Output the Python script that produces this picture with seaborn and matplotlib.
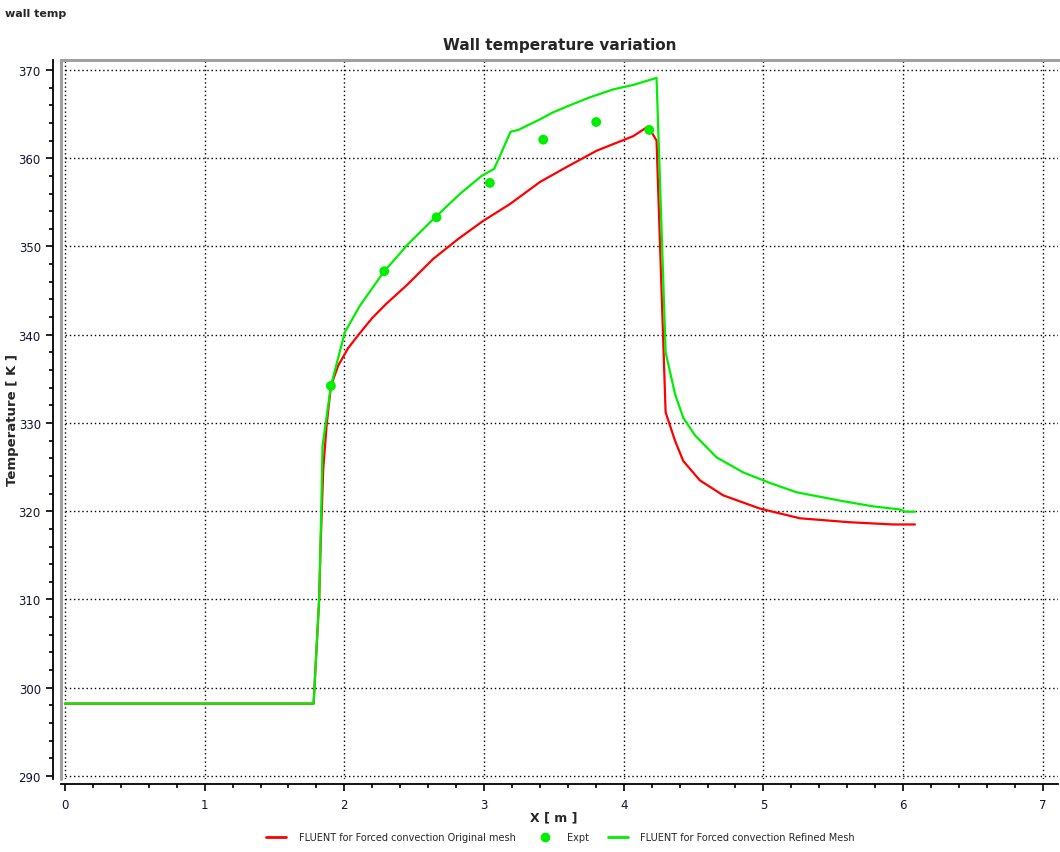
import matplotlib
matplotlib.use("Agg")
import matplotlib.pyplot as plt
from matplotlib.lines import Line2D
from matplotlib.ticker import MultipleLocator
import pandas as pd
import seaborn as sns

# FLUENT original mesh (red)
orig_x = [0.0, 1.78, 1.82, 1.83, 1.849, 1.873, 1.904, 1.956, 2.028, 2.112, 2.2, 2.30,
          2.446, 2.637, 2.815, 2.994, 3.185, 3.40, 3.591, 3.806, 3.925, 4.068, 4.175,
          4.235, 4.30, 4.367, 4.426, 4.545, 4.712, 4.975, 5.261, 5.619, 5.929, 6.085]
orig_t = [298.2, 298.2, 310.1, 316.1, 324.8, 329.7, 334.2, 336.5, 338.5, 340.2, 341.9,
          343.5, 345.6, 348.6, 350.85, 352.9, 354.8, 357.3, 359.0, 360.85, 361.6, 362.5,
          363.6, 362.0, 331.2, 328.0, 325.7, 323.5, 321.8, 320.3, 319.2, 318.75, 318.5, 318.5]

# FLUENT refined mesh (green)
ref_x = [0.0, 1.78, 1.82, 1.835, 1.844, 1.904, 2.004, 2.112, 2.286, 2.398, 2.446, 2.637,
         2.827, 2.983, 3.073, 3.19, 3.245, 3.40, 3.495, 3.615, 3.758, 3.925, 4.068, 4.235,
         4.30, 4.367, 4.426, 4.51, 4.665, 4.855, 5.047, 5.237, 5.548, 5.786, 5.977, 6.013, 6.085]
ref_t = [298.2, 298.2, 310.1, 320.3, 327.4, 334.2, 340.3, 343.3, 347.2, 349.2, 350.1, 353.1,
         355.95, 358.0, 358.8, 363.0, 363.2, 364.4, 365.2, 366.0, 366.9, 367.8, 368.3, 369.1,
         338.0, 333.3, 330.6, 328.6, 326.1, 324.4, 323.2, 322.15, 321.2, 320.55, 320.2, 319.95, 319.95]

# experiment
expt_x = [1.904, 2.286, 2.66, 3.042, 3.424, 3.803, 4.183]
expt_t = [334.2, 347.2, 353.3, 357.2, 362.1, 364.1, 363.2]

sns.set_style("white")
plt.rcParams['font.family'] = ['DejaVu Sans']

fig = plt.figure(figsize=(10.6, 8.53), dpi=100)
ax = fig.add_axes([0.0575, 0.0856, 0.9405, 0.8429])

red = '#ff0000'
green = '#00ee00'

orig_df = pd.DataFrame({'x': orig_x, 't': orig_t})
ref_df = pd.DataFrame({'x': ref_x, 't': ref_t})
expt_df = pd.DataFrame({'x': expt_x, 't': expt_t})

sns.lineplot(data=orig_df, x='x', y='t', sort=False, estimator=None, color=red,
             linewidth=1.6, ax=ax, zorder=3)
sns.lineplot(data=ref_df, x='x', y='t', sort=False, estimator=None, color=green,
             linewidth=1.6, ax=ax, zorder=3)
sns.scatterplot(data=expt_df, x='x', y='t', color=green, s=50, edgecolor='none',
                ax=ax, zorder=4)

ax.set_xlim(-0.0286, 7.108)
ax.set_ylim(289.66, 371.13)
ax.xaxis.set_major_locator(MultipleLocator(1))
ax.xaxis.set_minor_locator(MultipleLocator(0.2))
ax.yaxis.set_major_locator(MultipleLocator(10))
ax.yaxis.set_minor_locator(MultipleLocator(2))
ax.tick_params(axis='both', which='major', length=5, width=1.2, labelsize=8.5,
               color='black', labelcolor='#111133')
ax.tick_params(axis='both', which='minor', length=3, width=1.2, color='black')
ax.tick_params(axis='x', which='both', bottom=True, pad=5)
ax.tick_params(axis='y', which='both', left=True, pad=4)

ax.grid(True, which='major', color='black', linestyle=(0, (1, 2)), linewidth=1.0)

ax.spines['bottom'].set_position(('outward', 3.5))
ax.spines['bottom'].set_color('black')
ax.spines['bottom'].set_linewidth(1.3)
ax.spines['left'].set_position(('outward', 5.5))
ax.spines['left'].set_color('black')
ax.spines['left'].set_linewidth(1.3)
ax.spines['top'].set_color('#a0a0a0')
ax.spines['top'].set_linewidth(2.2)
ax.spines['right'].set_visible(False)
ax.add_line(Line2D([0, 0], [0, 1], transform=ax.transAxes, color='#a0a0a0',
                   linewidth=2.2, clip_on=False, zorder=5))

ax.set_xlabel('')
ax.set_ylabel('')
fig.text(0.522, 0.041, 'X [ m ]', ha='center', va='center', fontsize=9,
         fontweight='bold')
fig.text(0.012, 0.508, 'Temperature [ K ]', ha='center', va='center', fontsize=9.5,
         fontweight='bold', rotation=90)
fig.text(0.528, 0.947, 'Wall temperature variation', ha='center', va='center',
         fontsize=11, fontweight='bold')
fig.text(0.005, 0.99, 'wall temp', ha='left', va='top', fontsize=8, fontweight='bold')

handles = [Line2D([], [], color=red, linewidth=2),
           Line2D([], [], color=green, linestyle='none', marker='o', markersize=6),
           Line2D([], [], color=green, linewidth=2)]
labels = ['FLUENT for Forced convection Original mesh', 'Expt',
          'FLUENT for Forced convection Refined Mesh']
fig.legend(handles, labels, loc='center', bbox_to_anchor=(0.529, 0.0176), ncol=3,
           frameon=False, fontsize=7, handlelength=2.0, columnspacing=2.0,
           handletextpad=1.3)

fig.savefig('out.png', dpi=100)
